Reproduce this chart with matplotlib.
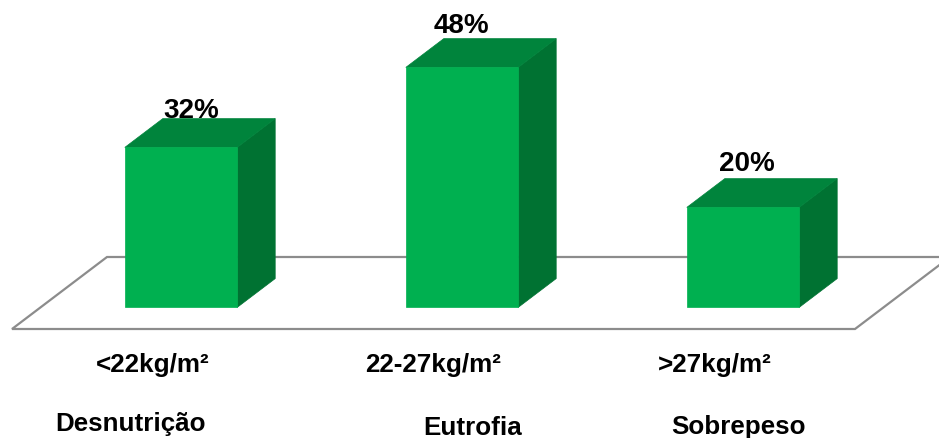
import matplotlib
matplotlib.use("Agg")
import matplotlib.pyplot as plt
from matplotlib.patches import Polygon

# Data
ranges = ["<22kg/m\u00b2", "22-27kg/m\u00b2", ">27kg/m\u00b2"]
classes = ["Desnutri\u00e7\u00e3o", "Eutrofia", "Sobrepeso"]
percent = [32, 48, 20]

# Colours
FRONT = "#00B050"
TOP = "#00843C"
SIDE = "#007232"
FLOOR_EDGE = "#8C8C8C"

# Oblique projection: depth d in [0, 1] shifts points right and up
OX = 95 / 281   # x shift (category units) for full floor depth
OZ = 72 / 5     # vertical shift (percent units) for full floor depth


def proj(x, z, d):
    return (x + d * OX, z + d * OZ)


fig = plt.figure(figsize=(9.39, 4.39), dpi=100)
ax = fig.add_axes([0, 0, 1, 1])
ax.set_xlim(-0.5 - 12 / 281, -0.5 + 927 / 281)
ax.set_ylim(-21.8, 66)
ax.axis("off")

n = len(percent)

# Floor
floor = [proj(-0.5, 0, 0), proj(n - 0.5, 0, 0), proj(n - 0.5, 0, 1), proj(-0.5, 0, 1)]
ax.add_patch(Polygon(floor, closed=True, facecolor="white", edgecolor=FLOOR_EDGE,
                     linewidth=1.6, zorder=1))

# Bars
w = 0.4
d0, d1 = 0.3, 0.7
for i, v in enumerate(percent):
    xl, xr = i - w / 2, i + w / 2
    front = [proj(xl, 0, d0), proj(xr, 0, d0), proj(xr, v, d0), proj(xl, v, d0)]
    top = [proj(xl, v, d0), proj(xr, v, d0), proj(xr, v, d1), proj(xl, v, d1)]
    side = [proj(xr, 0, d0), proj(xr, v, d0), proj(xr, v, d1), proj(xr, 0, d1)]
    ax.add_patch(Polygon(side, closed=True, facecolor=SIDE, edgecolor=SIDE, lw=0.5, zorder=2))
    ax.add_patch(Polygon(top, closed=True, facecolor=TOP, edgecolor=TOP, lw=0.5, zorder=2))
    ax.add_patch(Polygon(front, closed=True, facecolor=FRONT, edgecolor=FRONT, lw=0.5, zorder=3))

font = dict(family=["Liberation Sans", "DejaVu Sans"], fontweight="bold", color="black")

# Value labels above each bar
label_dx = [10, -1, 3.5]
label_dy = [2, 7, 9]
for i, v in enumerate(percent):
    fx, _ = proj(i, v, d0)
    _, by = proj(i, v, d1)
    ax.annotate(f"{v}%", xy=(fx, by), xytext=(label_dx[i], label_dy[i]),
                textcoords="offset pixels", ha="center", va="baseline",
                fontsize=20, **font)

# Category labels
name_dx = [-0.077, 0.139, 0.087]
name_base = [-20.2, -21.0, -20.8]
for i, (r, c) in enumerate(zip(ranges, classes)):
    ax.text(i, -8.4, r, ha="center", va="baseline", fontsize=18.7, **font)
    ax.text(i + name_dx[i], name_base[i], c, ha="center", va="baseline",
            fontsize=18.7, **font)

fig.savefig("out.png", dpi=100)
